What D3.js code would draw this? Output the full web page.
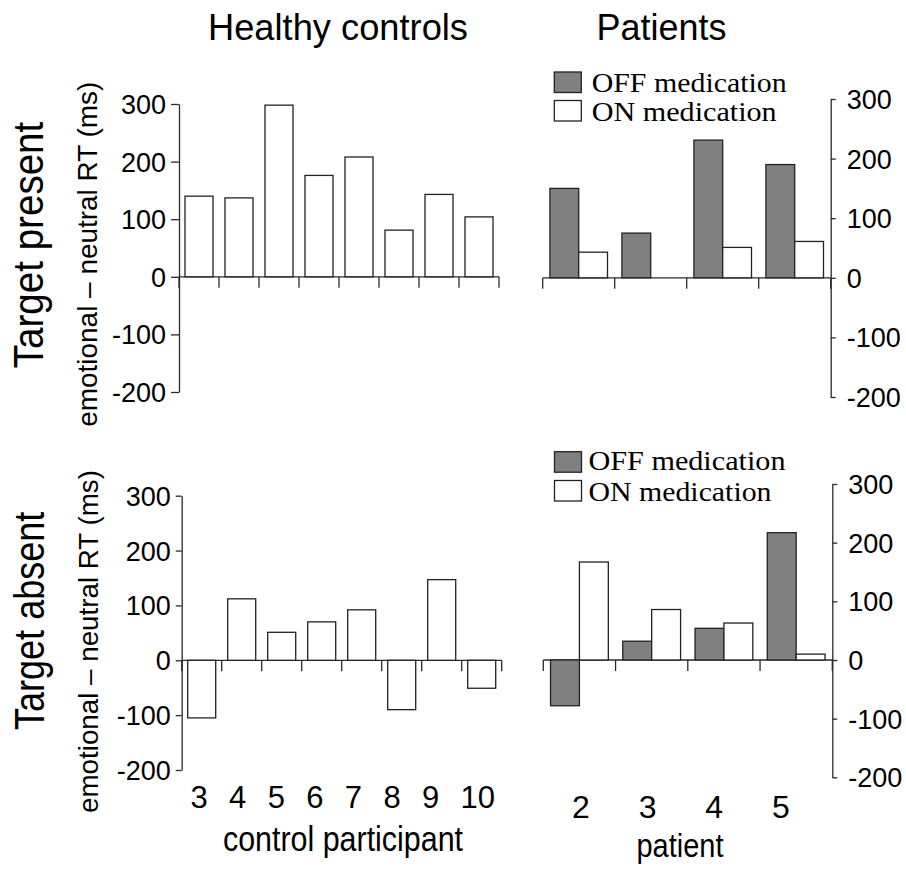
<!DOCTYPE html>
<html>
<head>
<meta charset="utf-8">
<script src="https://cdn.jsdelivr.net/npm/d3@7"></script>
<style>
  html, body { margin: 0; padding: 0; background: #fff; }
  svg { display: block; }
</style>
</head>
<body>
<svg id="chart" width="906" height="872"></svg>
<script>
// ---------------- data ----------------
const controlIds = ["3", "4", "5", "6", "7", "8", "9", "10"];
const patientIds = ["2", "3", "4", "5"];
const conditions = ["OFF medication", "ON medication"];
const yTicks = [-200, -100, 0, 100, 200, 300];

const controlPresent = [140, 137, 298, 176, 208, 81, 143, 104];
const controlAbsent  = [-105, 112, 51, 70, 92, -90, 147, -51];

const patientPresentOff = [150, 75, 231, 190];
const patientPresentOn  = [43, 0, 51, 61];
const patientAbsentOff  = [-78, 32, 54, 217];
const patientAbsentOn   = [167, 86, 63, 10];

// ---------------- drawing ----------------
const svg = d3.select("#chart");
const AX = "#2a2a2a";
const SANS = "Liberation Sans, Arial, sans-serif";
const SERIF = "Liberation Serif, Times New Roman, serif";
const fillFor = { "OFF medication": "#808080", "ON medication": "#ffffff" };

function yAxis(g, y, side, tickSize, pad) {
  const ax = (side === "left" ? d3.axisLeft(y) : d3.axisRight(y))
    .tickValues(yTicks).tickSize(tickSize).tickSizeOuter(0).tickPadding(pad)
    .tickFormat(d => String(d));
  g.call(ax);
  g.select(".domain").attr("stroke", AX).attr("stroke-width", 1.3);
  g.selectAll(".tick line").attr("stroke", AX).attr("stroke-width", 1.3);
  g.selectAll(".tick text").attr("font-family", SANS).attr("font-size", 27)
    .attr("fill", "#000").attr("dy", "0.35em");
}

function xBaseline(g, y, x0, x1, n, tickLen) {
  g.append("line").attr("x1", x0).attr("x2", x1).attr("y1", y(0)).attr("y2", y(0))
    .attr("stroke", AX).attr("stroke-width", 1.3);
  const bounds = d3.range(n + 1).map(i => x0 + (x1 - x0) * i / n);
  g.selectAll(".xt").data(bounds).enter().append("line")
    .attr("x1", d => d).attr("x2", d => d)
    .attr("y1", y(0)).attr("y2", y(0) + tickLen)
    .attr("stroke", AX).attr("stroke-width", 1.3);
}

function controlPanel(vals, axisX, x1, yTop, yBot, tickSize) {
  const g = svg.append("g");
  const y = d3.scaleLinear().domain([-200, 300]).range([yBot, yTop]);
  const x = d3.scaleBand().domain(controlIds).range([axisX, x1])
    .paddingInner(0.3).paddingOuter(0.15);
  xBaseline(g, y, axisX, x1, controlIds.length, 11);
  g.selectAll(".bar").data(controlIds.map((id, i) => ({ id, v: vals[i] })))
    .enter().append("rect")
    .attr("x", d => x(d.id)).attr("width", x.bandwidth())
    .attr("y", d => y(Math.max(0, d.v)))
    .attr("height", d => Math.abs(y(d.v) - y(0)))
    .attr("fill", "#fff").attr("stroke", "#222").attr("stroke-width", 1.3);
  const ga = g.append("g").attr("transform", `translate(${axisX},0)`);
  yAxis(ga, y, "left", tickSize, 5);
  return { x, y };
}

function patientPanel(offVals, onVals, x0, axisX, yTop, yBot) {
  const g = svg.append("g");
  const y = d3.scaleLinear().domain([-200, 300]).range([yBot, yTop]);
  const x = d3.scaleBand().domain(patientIds).range([x0, axisX])
    .paddingInner(0.2).paddingOuter(0.1);
  const xs = d3.scaleBand().domain(conditions).range([0, x.bandwidth()]);
  xBaseline(g, y, x0, axisX, patientIds.length, 11);
  const rows = [];
  patientIds.forEach((id, i) => {
    rows.push({ id, c: conditions[0], v: offVals[i] });
    rows.push({ id, c: conditions[1], v: onVals[i] });
  });
  g.selectAll(".bar").data(rows.filter(d => d.v !== 0)).enter().append("rect")
    .attr("x", d => x(d.id) + xs(d.c)).attr("width", xs.bandwidth())
    .attr("y", d => y(Math.max(0, d.v)))
    .attr("height", d => Math.abs(y(d.v) - y(0)))
    .attr("fill", d => fillFor[d.c]).attr("stroke", "#222").attr("stroke-width", 1.3);
  const ga = g.append("g").attr("transform", `translate(${axisX},0)`);
  yAxis(ga, y, "right", 5, 11);
  return { x, y };
}

function legend(bx, by1, by2, tx, base1, base2, w1, w2) {
  const g = svg.append("g");
  const boxes = [
    { c: conditions[0], y: by1, base: base1, w: w1 },
    { c: conditions[1], y: by2, base: base2, w: w2 }
  ];
  g.selectAll("rect").data(boxes).enter().append("rect")
    .attr("x", bx).attr("y", d => d.y).attr("width", 27).attr("height", 20.5)
    .attr("fill", d => fillFor[d.c]).attr("stroke", "#222").attr("stroke-width", 1.3);
  g.selectAll("text").data(boxes).enter().append("text")
    .attr("x", tx).attr("y", d => d.base)
    .attr("font-family", SERIF).attr("font-size", 27.5)
    .attr("textLength", d => d.w).attr("lengthAdjust", "spacingAndGlyphs")
    .text(d => d.c);
}

// panels
controlPanel(controlPresent, 179, 499, 104, 392, 8);
controlPanel(controlAbsent, 181.7, 501.7, 495.7, 770, 6);
patientPanel(patientPresentOff, patientPresentOn, 542.7, 830.7, 99, 397);
patientPanel(patientAbsentOff, patientAbsentOn, 543.3, 832.3, 484, 777.3);

legend(554.3, 72, 100.5, 591.7, 92.3, 121, 195, 185);
legend(554.5, 451.7, 480.5, 588.5, 470, 501, 197, 183);

// x category labels
const cLab = d3.scalePoint().domain(controlIds).range([190.5, 460.6]);
svg.append("g").selectAll("text").data(controlIds).enter().append("text")
  .attr("x", d => cLab(d)).attr("y", 807.5)
  .attr("font-family", SANS).attr("font-size", 31).text(d => d);
const pLab = d3.scalePoint().domain(patientIds).range([572, 772]);
svg.append("g").selectAll("text").data(patientIds).enter().append("text")
  .attr("x", d => pLab(d)).attr("y", 818)
  .attr("font-family", SANS).attr("font-size", 32).text(d => d);

// texts
function txt(s, x, y, size, opts = {}) {
  const t = svg.append("text").attr("x", x).attr("y", y)
    .attr("font-family", opts.family || SANS).attr("font-size", size)
    .attr("text-anchor", opts.anchor || "start").text(s);
  if (opts.len) t.attr("textLength", opts.len).attr("lengthAdjust", "spacingAndGlyphs");
  if (opts.rot) t.attr("transform", `rotate(-90,${x},${y})`);
  return t;
}
txt("Healthy controls", 208, 39.5, 36, { len: 260 });
txt("Patients", 596.5, 39.5, 36, { len: 130 });
txt("control participant", 223, 850.5, 35, { len: 240 });
txt("patient", 636.5, 856.5, 34, { len: 87 });

txt("Target present", 43.5, 368.3, 42, { rot: true, len: 246.6 });
txt("Target absent", 43.5, 730, 42, { rot: true, len: 218.3 });
txt("emotional \u2013 neutral RT (ms)", 96.8, 426.7, 28, { rot: true, len: 345 });
txt("emotional \u2013 neutral RT (ms)", 98, 813, 28, { rot: true, len: 343 });
</script>
</body>
</html>
